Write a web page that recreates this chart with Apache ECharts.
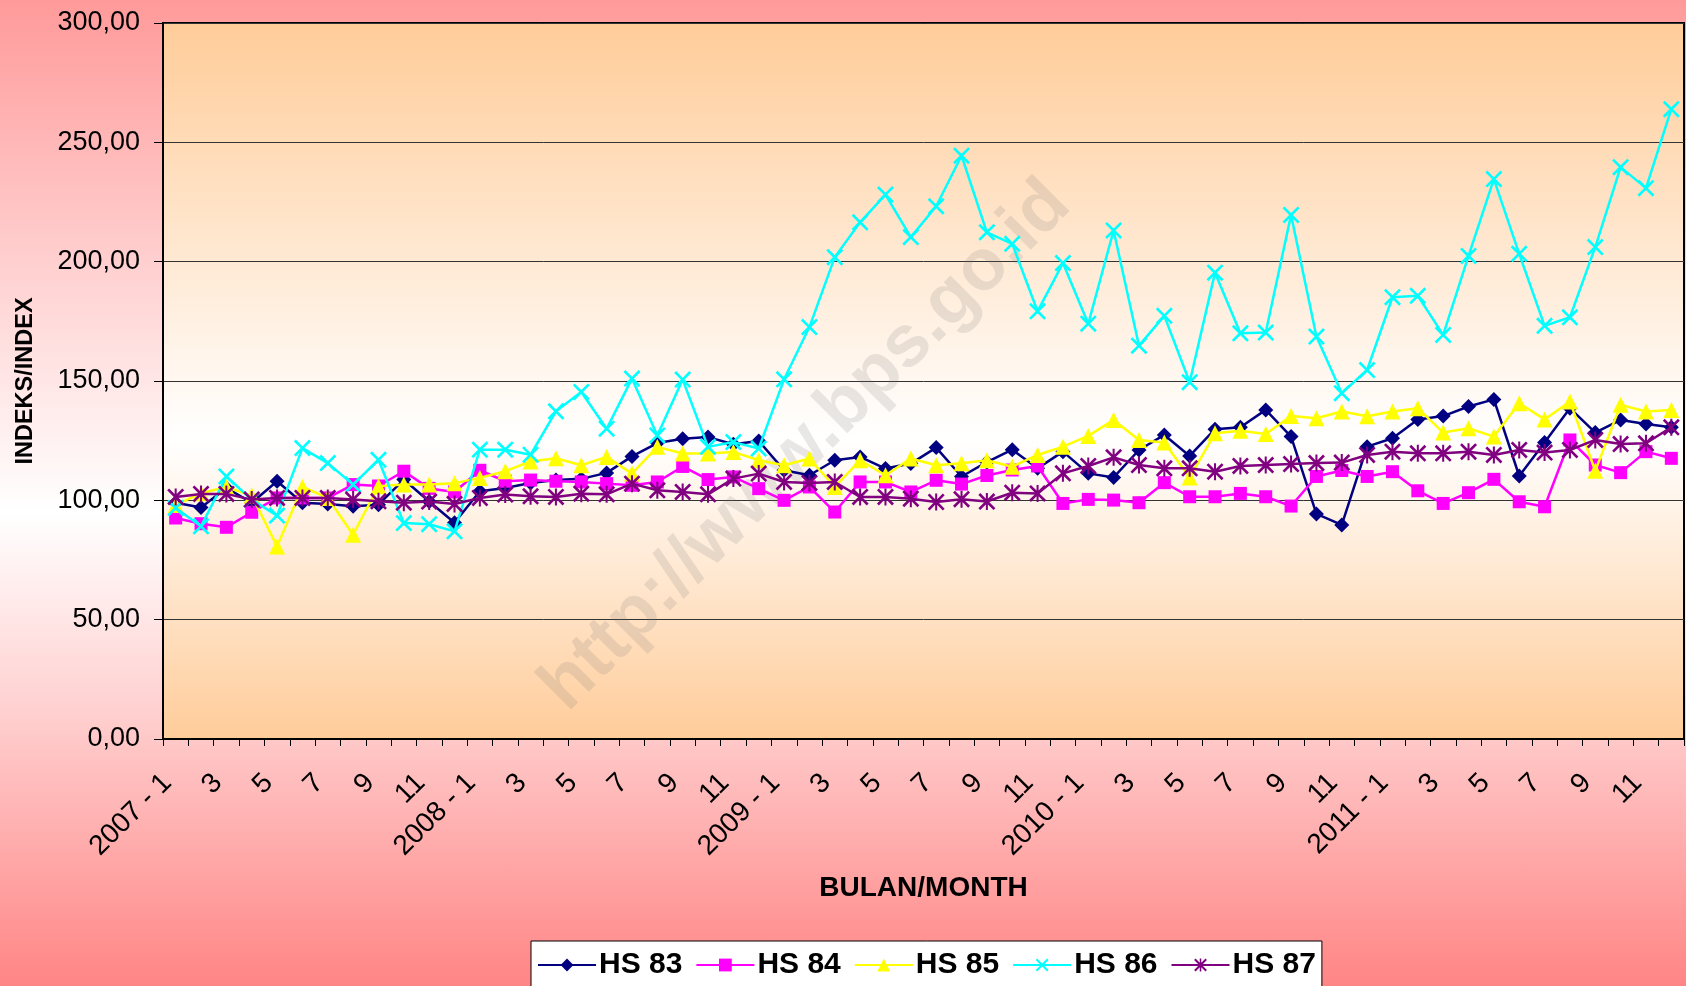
<!DOCTYPE html>
<html>
<head>
<meta charset="utf-8">
<script src="https://cdn.jsdelivr.net/npm/echarts@6/dist/echarts.min.js"></script>
<style>
html,body{margin:0;padding:0;}
#chart{width:1686px;height:986px;background:linear-gradient(to bottom,#FF9A9A 0%,#FFD6D6 30%,#FFFFFF 52%,#FFD0D0 72%,#FF8585 100%);}
</style>
</head>
<body>
<div id="chart"></div>
<script>
const categories = [
  "2007 - 1","2","3","4","5","6","7","8","9","10","11","12",
  "2008 - 1","2","3","4","5","6","7","8","9","10","11","12",
  "2009 - 1","2","3","4","5","6","7","8","9","10","11","12",
  "2010 - 1","2","3","4","5","6","7","8","9","10","11","12",
  "2011 - 1","2","3","4","5","6","7","8","9","10","11","12"
];
const seriesNames = ["HS 83","HS 84","HS 85","HS 86","HS 87"];
const hs83 = [99,97,105.2,99,108,99,98.5,97.5,98.2,108.7,99.5,90.6,
  103.8,105.2,107.3,108.5,109,111.5,118.4,124,125.8,126.5,123.5,124.9,
  112.6,110.5,116.8,118.2,113.3,115.4,122.1,110,116,121.2,113.4,120.4,
  111.3,109.6,121.1,127.4,118.6,129.8,130.6,137.9,126.7,94.3,89.7,122.5,
  126,133.9,135.3,139.3,142.3,110.2,124.2,138.6,128.4,133.7,132,130.6];
const hs84 = [92.6,90.2,88.7,95,101,101,101,106.6,106,112.2,105,103.5,
  112.6,108,108.5,108,107.7,107,106.3,107.7,114.2,108.7,109.8,104.9,
  100,105.6,95.1,107.7,107.7,103.5,108.4,106.8,110.4,112.7,114.4,98.7,
  100.4,100.1,99,107.4,101.5,101.5,102.9,101.5,97.6,110,112.5,110,
  112,104,98.7,103.2,108.8,99.4,97.3,125.3,114.8,111.6,120.4,117.6];
const hs85 = [98,103,105.6,102,80.7,105.6,101,85.6,105.9,106.6,106.6,107.2,
  109.4,112.2,116.3,117.6,114.7,118.2,111.2,122.4,119.6,119.6,120.3,116.8,
  114.7,117.5,105.6,116.8,110.5,117.5,114.7,115.5,116.8,114.1,119,122.5,
  127,133.7,125.3,124.2,109.6,128.1,129.2,127.8,135.3,134.4,137.2,135.2,
  137.2,138.6,128.4,130.2,126.7,140.7,133.9,141.4,112.4,140,137.2,137.9];
const hs86 = [96.8,89.1,110,100.3,93.6,121.9,115.6,106.6,117,90.5,90,87,
  121.2,121.2,119.1,137.3,145.4,130,151,127.2,150.6,122.4,124.4,121.7,
  150.7,172.6,201.9,216.5,228.1,210.3,223.2,244.4,212.3,207.5,179.2,199.4,
  174,213.1,164.8,177.3,149.5,195.4,170,170.3,219.6,168.6,144.9,154.6,
  185.1,185.7,169.3,202.4,234.6,203.3,173.1,176.7,206.1,239.6,230.8,263.9];
const hs87 = [101.4,102.7,102.7,100.3,101,101,101,100.3,99.6,99,99.5,98.5,
  101,102.4,101.7,101.4,102.8,102.5,107,104.2,103.5,102.5,109.1,111.2,
  107.7,107.3,107.7,101.4,101.4,100.7,99.3,100.5,99.5,103.2,102.9,111.3,
  114.4,118,114.8,113.4,113.4,112,114.4,114.8,115.2,115.6,115.8,119,
  120.4,119.7,119.7,120.4,119,121.1,120,121.1,125.3,123.6,123.9,130.6];
const yTicks = ["0,00","50,00","100,00","150,00","200,00","250,00","300,00"];

const FONT = '"Liberation Sans", Arial, sans-serif';
const xPath = 'path://M0,2.2L2.2,0L10,7.8L17.8,0L20,2.2L12.2,10L20,17.8L17.8,20L10,12.2L2.2,20L0,17.8L7.8,10Z';
const starPath = 'path://M0,2.2L2.2,0L10,7.8L17.8,0L20,2.2L12.2,10L20,17.8L17.8,20L10,12.2L2.2,20L0,17.8L7.8,10ZM8.8,0L11.2,0L11.2,20L8.8,20Z';

const styles = [
  {color:'#000080', symbol:'diamond', size:15},
  {color:'#FF00FF', symbol:'rect', size:13},
  {color:'#FFFF00', symbol:'triangle', size:16},
  {color:'#00FFFF', symbol:xPath, size:17},
  {color:'#800080', symbol:starPath, size:17}
];
const dataSets = [hs83, hs84, hs85, hs86, hs87];

const chart = echarts.init(document.getElementById('chart'), null, {renderer:'canvas'});
const option = {
  backgroundColor: 'transparent',
  animation: false,
  textStyle: {fontFamily: FONT},
  grid: {
    left: 163, top: 23, right: 2, bottom: 247,
    show: true,
    borderColor: '#000', borderWidth: 2,
    backgroundColor: {type:'linear', x:0, y:0, x2:0, y2:1,
      colorStops:[{offset:0,color:'#FFCC99'},{offset:0.58,color:'#FFFFFF'},{offset:1,color:'#FFCC99'}]}
  },
  legend: {
    data: seriesNames,
    left: 531, top: 941,
    backgroundColor: '#FFFFFF',
    borderColor: '#000', borderWidth: 1,
    padding: [9, 6, 20, 6],
    itemGap: 13,
    itemWidth: 58, itemHeight: 16,
    textStyle: {fontFamily: FONT, fontSize: 30, fontWeight: 'bold', color: '#000', padding:[0,0,0,-2]}
  },
  graphic: [{
    type: 'text', x: 806, y: 446, rotation: Math.PI/4, z: 1, silent: true,
    style: {text: 'http://www.bps.go.id', font: 'bold 73px ' + FONT,
      fill: 'rgba(120,120,120,0.17)', align: 'center', verticalAlign: 'middle'}
  }],
  xAxis: {
    type: 'category', data: categories, boundaryGap: true,
    name: 'BULAN/MONTH', nameLocation: 'middle', nameGap: 135,
    nameTextStyle: {fontFamily: FONT, fontSize: 28, fontWeight: 'bold', color: '#000'},
    axisLine: {lineStyle: {color: '#000', width: 2}},
    axisTick: {show: true, interval: 0, length: 7, lineStyle: {color: '#000', width: 1}},
    axisLabel: {interval: 1, rotate: 45, margin: 31, padding: [0, 12, 0, 0],
      fontFamily: FONT, fontSize: 28, color: '#000'},
    splitLine: {show: false}
  },
  yAxis: {
    type: 'value', min: 0, max: 300, interval: 50,
    name: 'INDEKS/INDEX', nameLocation: 'middle', nameGap: 125,
    nameTextStyle: {fontFamily: FONT, fontSize: 23.5, fontWeight: 'bold', color: '#000'},
    axisLine: {show: true, lineStyle: {color: '#000', width: 2}},
    axisTick: {show: true, length: 9, lineStyle: {color: '#000', width: 1}},
    axisLabel: {margin: 23, fontFamily: FONT, fontSize: 27, color: '#000',
      formatter: function (v) { return yTicks[Math.round(v / 50)]; }},
    splitLine: {show: true, lineStyle: {color: '#333', width: 1}}
  },
  series: dataSets.map(function (d, i) {
    return {
      name: seriesNames[i], type: 'line', data: d,
      symbol: styles[i].symbol, symbolSize: styles[i].size, showAllSymbol: true,
      z: 3 + i,
      lineStyle: {color: styles[i].color, width: 2.5},
      itemStyle: {color: styles[i].color, borderWidth: 0},
      emphasis: {disabled: true}
    };
  })
};
chart.setOption(option);
</script>
</body>
</html>
